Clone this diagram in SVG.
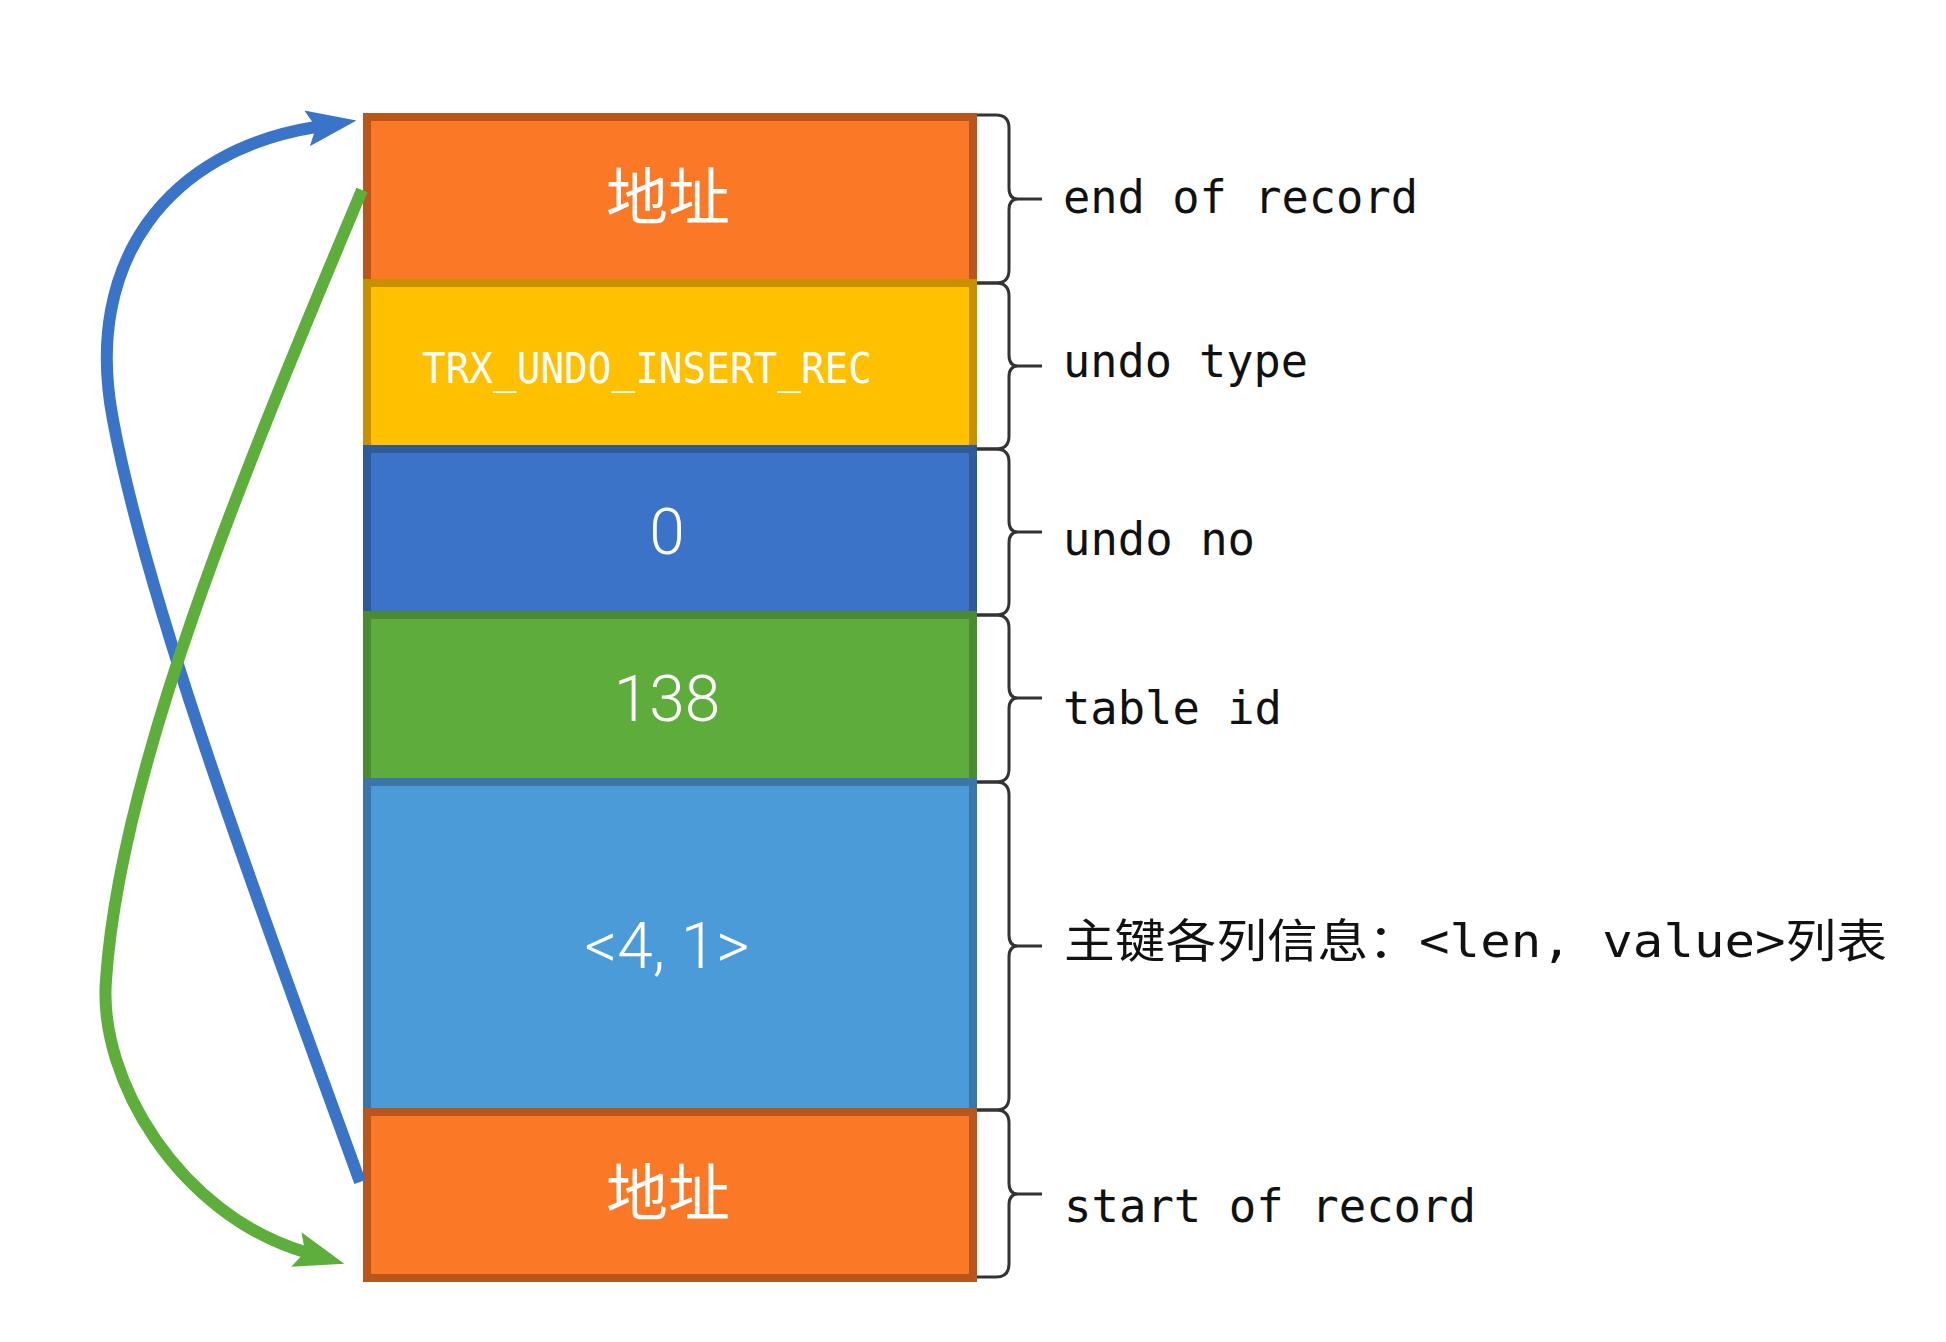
<svg xmlns="http://www.w3.org/2000/svg" width="1946" height="1342" viewBox="0 0 1946 1342">
<style>
.cell{stroke-width:8}
.orange{fill:#FA7826;stroke:#B9561B}
.yellow{fill:#FFC000;stroke:#C79000}
.dblue{fill:#3A73C7;stroke:#2D5A98}
.green{fill:#5EAD3C;stroke:#4B8A30}
.lblue{fill:#4A9BD7;stroke:#3A76A8}
.cjk{font-family:"Noto Sans CJK SC","Noto Sans CJK JP",sans-serif;font-size:62px;fill:#fff;text-anchor:middle}
.num{font-family:Roboto,"Liberation Sans",sans-serif;font-weight:300;font-size:64px;fill:#fff;text-anchor:middle}
.mono{font-family:"DejaVu Sans Mono","Liberation Mono","Noto Sans CJK SC",monospace;font-size:46px;fill:#111}
.brace{fill:none;stroke:#333;stroke-width:3}
.conn{fill:none;stroke-width:12}
</style>
<defs>
<marker id="ahBlue" markerUnits="userSpaceOnUse" markerWidth="50" markerHeight="36" viewBox="0 0 50 36" refX="9" refY="18" orient="auto">
<path d="M0,0 L50,18 L0,36 L9,18 z" fill="#3A74C9"/>
</marker>
<marker id="ahGreen" markerUnits="userSpaceOnUse" markerWidth="50" markerHeight="36" viewBox="0 0 50 36" refX="9" refY="18" orient="auto">
<path d="M0,0 L50,18 L0,36 L9,18 z" fill="#5DAE3A"/>
</marker>
</defs>
<rect width="1946" height="1342" fill="#fff"/>

<g id="row-end-address">
<rect class="cell orange" x="367" y="117" width="606" height="166"/>
<text class="cjk" x="668" y="220">地址</text>
</g>
<g id="row-undo-type">
<rect class="cell yellow" x="367" y="283" width="606" height="166"/>
<text x="422" y="383" font-family="DejaVu Sans Mono, Liberation Mono, monospace" font-size="43" fill="#fff" textLength="450" lengthAdjust="spacingAndGlyphs">TRX_UNDO_INSERT_REC</text>
</g>
<g id="row-undo-no">
<rect class="cell dblue" x="367" y="449" width="606" height="166"/>
<text class="num" x="667" y="554">0</text>
</g>
<g id="row-table-id">
<rect class="cell green" x="367" y="615" width="606" height="167"/>
<text class="num" x="667" y="721">138</text>
</g>
<g id="row-key-cols">
<rect class="cell lblue" x="367" y="782" width="606" height="330"/>
<text class="num" x="667" y="968">&lt;4, 1&gt;</text>
</g>
<g id="row-start-address">
<rect class="cell orange" x="367" y="1112" width="606" height="166"/>
<text class="cjk" x="668" y="1216">地址</text>
</g>

<g id="braces">
<path class="brace" d="M977,115 H996 Q1009,115 1009,128 V188 Q1009,199 1018,199 Q1009,199 1009,210 V270 Q1009,283 996,283 H977 M1016,199 H1042"/>
<path class="brace" d="M977,283 H996 Q1009,283 1009,296 V355 Q1009,366 1018,366 Q1009,366 1009,377 V436 Q1009,449 996,449 H977 M1016,366 H1042"/>
<path class="brace" d="M977,449 H996 Q1009,449 1009,462 V521 Q1009,532 1018,532 Q1009,532 1009,543 V602 Q1009,615 996,615 H977 M1016,532 H1042"/>
<path class="brace" d="M977,615 H996 Q1009,615 1009,628 V687 Q1009,698 1018,698 Q1009,698 1009,709 V769 Q1009,782 996,782 H977 M1016,698 H1042"/>
<path class="brace" d="M977,782 H996 Q1009,782 1009,795 V935 Q1009,946 1018,946 Q1009,946 1009,957 V1097 Q1009,1110 996,1110 H977 M1016,946 H1042"/>
<path class="brace" d="M977,1110 H996 Q1009,1110 1009,1123 V1183 Q1009,1194 1018,1194 Q1009,1194 1009,1205 V1264 Q1009,1277 996,1277 H977 M1016,1194 H1042"/>
</g>

<g id="labels">
<text class="mono" x="1063" y="213" textLength="355" lengthAdjust="spacingAndGlyphs">end of record</text>
<text class="mono" x="1063" y="377" textLength="245" lengthAdjust="spacingAndGlyphs">undo type</text>
<text class="mono" x="1063" y="555" textLength="192" lengthAdjust="spacingAndGlyphs">undo no</text>
<text class="mono" x="1063" y="724" textLength="219" lengthAdjust="spacingAndGlyphs">table id</text>
<text class="mono" x="1064" y="957" textLength="823" lengthAdjust="spacingAndGlyphs">主键各列信息：&lt;len, value&gt;列表</text>
<text class="mono" x="1064" y="1222" textLength="412" lengthAdjust="spacingAndGlyphs">start of record</text>
</g>

<g id="connectors">
<path class="conn" stroke="#3A74C9" marker-end="url(#ahBlue)" d="M360,1182 C280,960 150,620 113,420 C82,260 170,150 316,127"/>
<path class="conn" stroke="#5DAE3A" marker-end="url(#ahGreen)" d="M362,190 C240,480 120,770 106,980 C98,1080 180,1215 305,1252"/>
</g>
</svg>
